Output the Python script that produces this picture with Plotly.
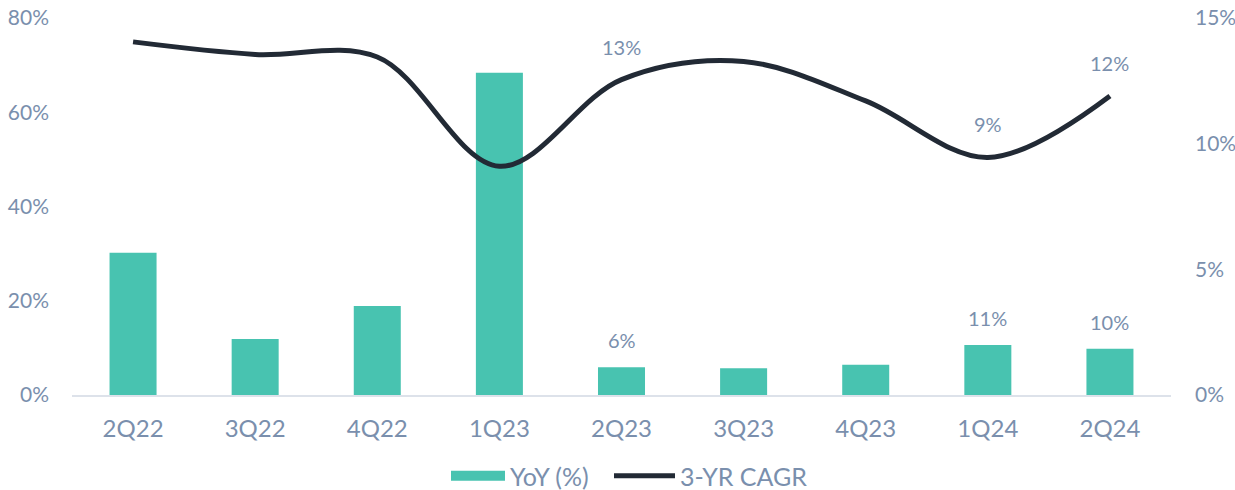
import plotly.graph_objects as go

# Quarterly series
quarters = ["2Q22", "3Q22", "4Q22", "1Q23", "2Q23", "3Q23", "4Q23", "1Q24", "2Q24"]
yoy_pct = [30.2, 11.9, 18.9, 68.4, 5.9, 5.7, 6.4, 10.6, 9.8]
cagr_3yr = [14.05, 13.55, 13.45, 9.1, 12.55, 13.27, 11.7, 9.45, 11.9]

# Points that carry a value label
yoy_labelled = ["2Q23", "1Q24", "2Q24"]
cagr_labelled = ["2Q23", "1Q24", "2Q24"]

left_ticks = [0, 20, 40, 60, 80]
right_ticks = [0, 5, 10, 15]

TEAL = "#48c3b0"
NAVY = "#222a35"
SLATE = "#7a8fad"
FONT = "Lato, 'Open Sans', sans-serif"

fig = go.Figure()

fig.add_trace(go.Bar(
    x=quarters, y=yoy_pct, name="YoY (%)",
    marker=dict(color=TEAL, line=dict(width=0)),
    yaxis="y", showlegend=False, legendgroup="yoy",
))

# Legend entry for the bars, drawn as a wide flat swatch
fig.add_trace(go.Scatter(
    x=[None], y=[None], name="YoY (%)", mode="lines",
    line=dict(color=TEAL, width=12), legendgroup="yoy",
    hoverinfo="skip", legend="legend",
))

fig.add_trace(go.Scatter(
    x=quarters, y=cagr_3yr, name="3-YR CAGR",
    mode="lines", legendgroup="cagr", legend="legend2",
    line=dict(color=NAVY, width=5, shape="spline", smoothing=1.0),
    yaxis="y2",
))

annotations = []
for q in yoy_labelled:
    v = yoy_pct[quarters.index(q)]
    annotations.append(dict(
        x=q, y=v, xref="x", yref="y", text=f"{v:.0f}%",
        showarrow=False, yshift=27, font=dict(family=FONT, size=20, color=SLATE),
    ))
for q in cagr_labelled:
    v = cagr_3yr[quarters.index(q)]
    annotations.append(dict(
        x=q, y=v, xref="x", yref="y2", text=f"{v:.0f}%",
        showarrow=False, yshift=33, font=dict(family=FONT, size=20, color=SLATE),
    ))

legend_style = dict(
    orientation="h", xanchor="left", xref="container",
    y=-0.215, yanchor="middle", yref="paper",
    font=dict(family=FONT, size=25, color=SLATE),
    bgcolor="rgba(0,0,0,0)",
)

fig.update_layout(
    width=1235, height=490,
    margin=dict(l=72, r=64, t=18, b=95, autoexpand=False),
    paper_bgcolor="white", plot_bgcolor="white",
    font=dict(family=FONT, size=21, color=SLATE),
    bargap=0.615,
    showlegend=True,
    legend=dict(x=446 / 1235, itemwidth=54, **legend_style),
    legend2=dict(x=609 / 1235, itemwidth=61, **legend_style),
    xaxis=dict(
        showline=True, linecolor="#dde2ea", linewidth=2,
        showgrid=False, zeroline=False, automargin=False,
        ticks="", ticklabelstandoff=11,
        tickfont=dict(family=FONT, size=24, color=SLATE),
    ),
    yaxis=dict(
        range=[0, 80], tickvals=left_ticks,
        ticktext=[f"{t}%" for t in left_ticks],
        showgrid=False, zeroline=False, showline=False, automargin=False,
        ticklabelstandoff=22,
        tickfont=dict(family=FONT, size=21, color=SLATE),
    ),
    yaxis2=dict(
        range=[0, 15], tickvals=right_ticks,
        ticktext=[f"{t}%" for t in right_ticks],
        overlaying="y", side="right", automargin=False,
        showgrid=False, zeroline=False, showline=False,
        ticklabelstandoff=23,
        tickfont=dict(family=FONT, size=21, color=SLATE),
    ),
    annotations=annotations,
)

fig.write_html("out.html")
